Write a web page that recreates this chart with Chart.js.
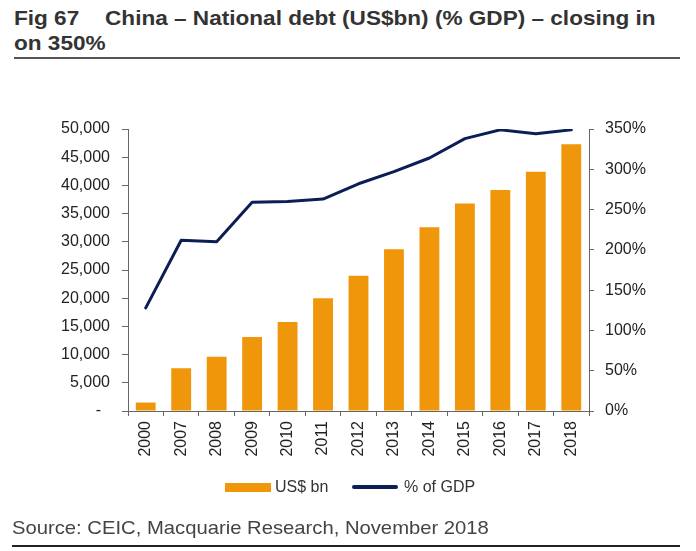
<!DOCTYPE html>
<html><head><meta charset="utf-8">
<script src="https://cdn.jsdelivr.net/npm/chart.js@4.4.1/dist/chart.umd.min.js"></script>
<style>
html,body{margin:0;padding:0;background:#fff;}
body{width:696px;height:551px;position:relative;overflow:hidden;font-family:"Liberation Sans",Arial,sans-serif;}
#title{position:absolute;left:14px;top:5px;font-weight:bold;font-size:21px;line-height:25px;color:#333;white-space:nowrap;transform:scaleX(1.075);transform-origin:0 0;}
#title .gap{display:inline-block;width:24px;}
#rule1{position:absolute;left:14px;top:57px;width:666px;height:2px;background:#555;}
#rule2{position:absolute;left:12px;top:545px;width:668px;height:2px;background:#222;}
#source{position:absolute;left:12px;top:517px;font-size:19px;line-height:22px;color:#444;white-space:nowrap;transform:scaleX(1.065);transform-origin:0 0;}
#chart{position:absolute;left:0;top:0;}
.lg{position:absolute;font-size:16px;line-height:18px;color:#333;white-space:nowrap;}
</style>
</head><body>
<div id="title">Fig 67<span class="gap"></span>China – National debt (US$bn) (% GDP) – closing in<br>on 350%</div>
<div id="rule1"></div>
<canvas id="chart" width="696" height="551"></canvas>
<div style="position:absolute;left:225px;top:483px;width:46px;height:9px;background:#F0960A;"></div>
<div class="lg" style="left:275px;top:478px;">US$ bn</div>
<div style="position:absolute;left:352px;top:485px;width:46px;height:4px;background:#0B1E55;border-radius:2px;"></div>
<div class="lg" style="left:404px;top:478px;">% of GDP</div>
<div id="source">Source: CEIC, Macquarie Research, November 2018</div>
<div id="rule2"></div>
<script>
const years = ["2000","2007","2008","2009","2010","2011","2012","2013","2014","2015","2016","2017","2018"];
const debtUSDbn = [1500, 7600, 9600, 13100, 15800, 20000, 24000, 28700, 32600, 36800, 39200, 42400, 47300];
const debtPctGDP = [128, 212, 210, 259, 260, 263, 282, 297, 314, 338, 349, 344, 349];
const leftTicks = [0, 5000, 10000, 15000, 20000, 25000, 30000, 35000, 40000, 45000, 50000];
const rightTicks = [0, 50, 100, 150, 200, 250, 300, 350];

Chart.defaults.font.family = "'Liberation Sans', Arial, sans-serif";
Chart.defaults.color = '#222';

const axisColor = '#666';
new Chart(document.getElementById('chart'), {
  type: 'bar',
  data: {
    labels: years,
    datasets: [
      {
        type: 'line', label: '% of GDP', data: debtPctGDP, yAxisID: 'y1',
        borderColor: '#0B1E55', backgroundColor: '#0B1E55', borderWidth: 3,
        pointRadius: 0, tension: 0, order: 0, borderCapStyle: 'round', borderJoinStyle: 'round'
      },
      {
        type: 'bar', label: 'US$ bn', data: debtUSDbn, yAxisID: 'y',
        backgroundColor: '#F0960A', categoryPercentage: 1, barPercentage: 0.56, order: 1
      }
    ]
  },
  options: {
    responsive: false,
    animation: false,
    layout: { padding: { top: 129, bottom: 80, left: 0, right: 0 } },
    plugins: { legend: { display: false }, tooltip: { enabled: false } },
    scales: {
      x: {
        grid: { offset: true, drawOnChartArea: false, drawTicks: true, tickLength: 5, color: axisColor },
        border: { color: axisColor, width: 1 },
        ticks: { minRotation: 90, maxRotation: 90, autoSkip: false, padding: 5, font: { size: 16 }, color: '#222' },
        afterFit: (s) => { s.height = 60; }
      },
      y: {
        position: 'left', min: 0, max: 50000,
        afterBuildTicks: (s) => { s.ticks = leftTicks.map(v => ({ value: v })); },
        grid: { drawOnChartArea: false, drawTicks: true, tickLength: 6, color: axisColor },
        border: { color: axisColor, width: 1 },
        ticks: { padding: 12, font: { size: 16 }, color: '#222',
          callback: (v) => v === 0 ? '-  ' : v.toLocaleString('en-US') },
        afterFit: (s) => { s.width = 128; }
      },
      y1: {
        position: 'right', min: 0, max: 350,
        afterBuildTicks: (s) => { s.ticks = rightTicks.map(v => ({ value: v })); },
        grid: { drawOnChartArea: false, drawTicks: true, tickLength: 5, color: axisColor },
        border: { color: axisColor, width: 1 },
        ticks: { padding: 11, font: { size: 16 }, color: '#222', callback: (v) => v + '%' },
        afterFit: (s) => { s.width = 107; }
      }
    }
  }
});
</script>
</body></html>
